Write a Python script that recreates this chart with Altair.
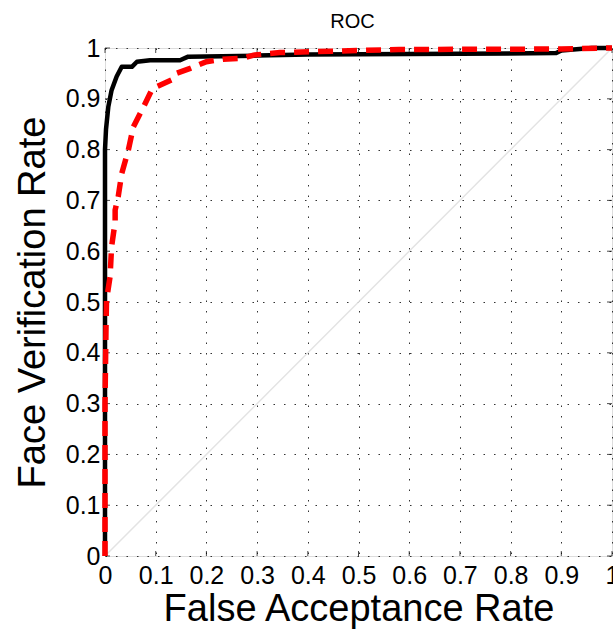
import altair as alt
import pandas as pd

# tick values
tick_vals = [0, 0.1, 0.2, 0.3, 0.4, 0.5, 0.6, 0.7, 0.8, 0.9, 1.0]

# black solid ROC curve
black_far = [0.0, 0.0, 0.002, 0.0065, 0.013, 0.023, 0.033, 0.053, 0.063, 0.089, 0.148, 0.164, 0.30, 0.40, 0.60, 0.89, 0.90, 0.96, 1.0]
black_fvr = [0.0, 0.80, 0.84, 0.884, 0.917, 0.944, 0.963, 0.963, 0.973, 0.976, 0.976, 0.983, 0.985, 0.987, 0.988, 0.990, 0.995, 1.0, 1.0]

# red dashed ROC curve
red_far = [0.0, 0.0, 0.002, 0.003, 0.010, 0.013, 0.020, 0.020, 0.026, 0.033, 0.046, 0.056, 0.076, 0.092, 0.102, 0.131, 0.141, 0.168, 0.200, 0.233, 0.273, 0.293, 0.345, 0.58, 0.90, 1.0]
red_fvr = [0.0, 0.30, 0.45, 0.504, 0.55, 0.609, 0.658, 0.681, 0.707, 0.753, 0.799, 0.845, 0.884, 0.917, 0.924, 0.937, 0.950, 0.960, 0.973, 0.978, 0.980, 0.986, 0.991, 0.997, 0.998, 1.0]

# chance diagonal
diag_x = [0.0, 1.0]
diag_y = [0.0, 1.0]

W, H = 507, 508
FONT = "Liberation Sans"

black_df = pd.DataFrame({"x": black_far, "y": black_fvr, "o": range(len(black_far))})
red_df = pd.DataFrame({"x": red_far, "y": red_fvr, "o": range(len(red_far))})
diag_df = pd.DataFrame({"x": diag_x, "y": diag_y, "o": range(len(diag_x))})
ticks_df = pd.DataFrame({"t": tick_vals})

xscale = alt.Scale(domain=[0, 1], nice=False, zero=False)
yscale = alt.Scale(domain=[0, 1], nice=False, zero=False)

x_axis = alt.Axis(
    values=tick_vals, format="~g", title="False Acceptance Rate",
    titleFont=FONT, titleFontSize=38, titleFontWeight="normal", titleColor="black",
    titlePadding=2,
    labelFont=FONT, labelFontSize=25, labelColor="black", labelPadding=7,
    labelFlush=False, labelOverlap=False, labelBound=False,
    ticks=False, domain=False,
    grid=True, gridDash=[1.5, 9], gridColor="#333333", gridWidth=1,
)
y_axis = alt.Axis(
    values=tick_vals, format="~g", title="Face Verification Rate",
    titleFont=FONT, titleFontSize=38, titleFontWeight="normal", titleColor="black",
    titlePadding=13,
    labelFont=FONT, labelFontSize=25, labelColor="black", labelPadding=5,
    labelFlush=False, labelOverlap=False, labelBound=False,
    ticks=False, domain=False,
    grid=True, gridDash=[1.5, 9], gridColor="#333333", gridWidth=1,
)

diag = alt.Chart(diag_df).mark_line(color="#e3e3e3", strokeWidth=1.5).encode(
    x=alt.X("x:Q", scale=xscale, axis=x_axis),
    y=alt.Y("y:Q", scale=yscale, axis=y_axis),
    order="o:Q",
)

black = alt.Chart(black_df).mark_line(color="black", strokeWidth=4.5, strokeJoin="round").encode(
    x=alt.X("x:Q", scale=xscale),
    y=alt.Y("y:Q", scale=yscale),
    order="o:Q",
)

red = alt.Chart(red_df).mark_line(color="#ff0000", strokeWidth=5.5, strokeDash=[15, 9]).encode(
    x=alt.X("x:Q", scale=xscale),
    y=alt.Y("y:Q", scale=yscale),
    order="o:Q",
)

tick_bottom = alt.Chart(ticks_df).mark_tick(orient="vertical", color="black", size=5, thickness=1).encode(
    x=alt.X("t:Q", scale=xscale), y=alt.value(H - 2.5)
)
tick_top = alt.Chart(ticks_df).mark_tick(orient="vertical", color="black", size=5, thickness=1).encode(
    x=alt.X("t:Q", scale=xscale), y=alt.value(2.5)
)
tick_left = alt.Chart(ticks_df).mark_tick(orient="horizontal", color="black", size=5, thickness=1).encode(
    y=alt.Y("t:Q", scale=yscale), x=alt.value(2.5)
)
tick_right = alt.Chart(ticks_df).mark_tick(orient="horizontal", color="black", size=5, thickness=1).encode(
    y=alt.Y("t:Q", scale=yscale), x=alt.value(W - 2.5)
)

chart = alt.layer(diag, tick_bottom, tick_top, tick_left, tick_right, black, red).properties(
    width=W, height=H,
    title=alt.TitleParams("ROC", font=FONT, fontSize=20, fontWeight="normal", color="black",
                          anchor="middle", offset=4, dx=-6),
    autosize=alt.AutoSizeParams(type="none"),
    padding={"left": 105, "top": 48, "right": 1, "bottom": 78},
).configure_view(stroke="black", strokeWidth=1.2).configure(background="white")

chart.save("out.html", embed_options={"renderer": "svg", "actions": False})
